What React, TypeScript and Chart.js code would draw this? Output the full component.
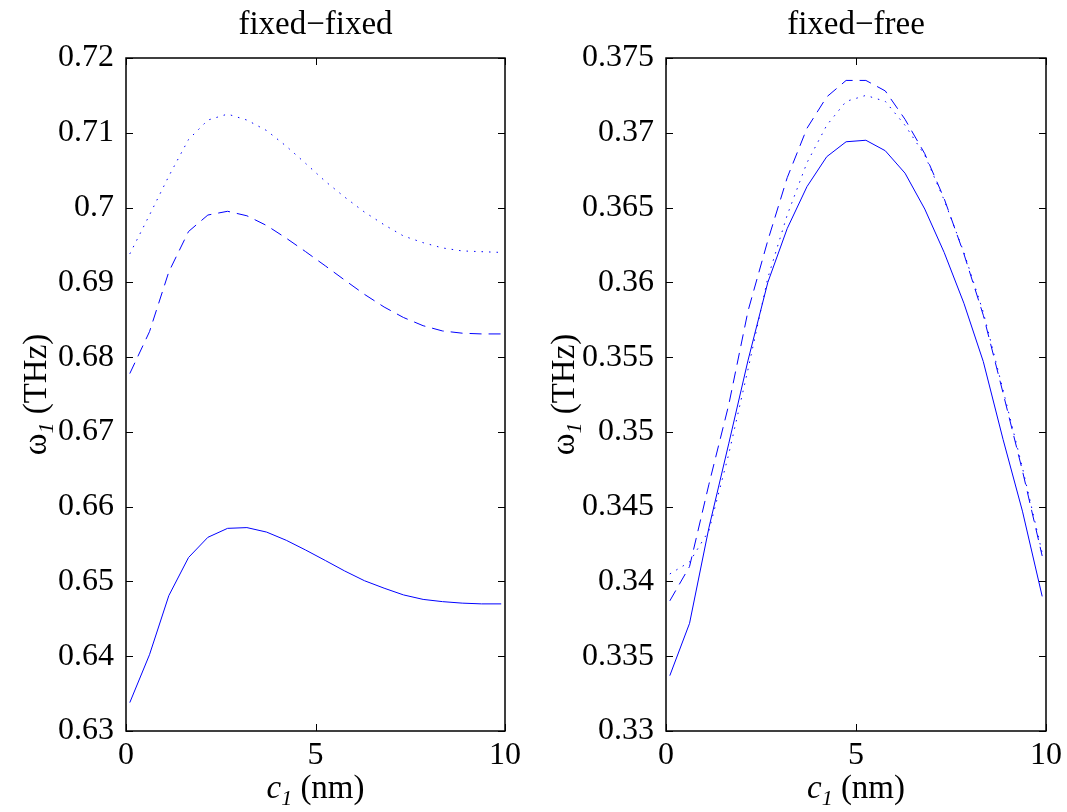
import React, { useEffect, useRef } from 'react';
import { Chart, registerables } from 'chart.js';

Chart.register(...registerables);

// ---- data ----
const C1 = [0.1, 0.62, 1.13, 1.65, 2.16, 2.68, 3.19, 3.71, 4.23, 4.74, 5.26, 5.77, 6.29, 6.81, 7.32, 7.84, 8.35, 8.87, 9.38, 9.9];

const fixedFixedSolid = [0.6338, 0.6402, 0.6481, 0.6532, 0.6559, 0.6571, 0.6572, 0.6566, 0.6555, 0.6542, 0.6528, 0.6514, 0.6501, 0.6491, 0.6482, 0.6476, 0.6473, 0.6471, 0.6470, 0.6470];
const fixedFixedDashed = [0.6778, 0.6834, 0.6914, 0.6968, 0.6990, 0.6995, 0.6989, 0.6976, 0.6959, 0.6941, 0.6922, 0.6903, 0.6884, 0.6867, 0.6853, 0.6842, 0.6835, 0.6832, 0.6831, 0.6831];
const fixedFixedDotted = [0.6938, 0.6990, 0.7042, 0.7091, 0.7117, 0.7125, 0.7117, 0.7103, 0.7082, 0.7059, 0.7035, 0.7014, 0.6994, 0.6977, 0.6962, 0.6953, 0.6946, 0.6942, 0.6941, 0.6940];

const fixedFreeSolid = [0.3337, 0.3372, 0.3436, 0.3492, 0.3548, 0.3600, 0.3636, 0.3664, 0.3684, 0.3694, 0.3695, 0.3688, 0.3673, 0.3649, 0.3620, 0.3586, 0.3547, 0.3495, 0.3447, 0.3390];
const fixedFreeDashed = [0.3387, 0.3410, 0.3465, 0.3518, 0.3581, 0.3628, 0.3670, 0.3703, 0.3724, 0.3735, 0.3735, 0.3728, 0.3709, 0.3686, 0.3656, 0.3619, 0.3578, 0.3526, 0.3474, 0.3417];
const fixedFreeDotted = [0.3405, 0.3413, 0.3434, 0.3485, 0.3542, 0.3603, 0.3645, 0.3680, 0.3705, 0.3721, 0.3725, 0.3721, 0.3705, 0.3685, 0.3655, 0.3620, 0.3580, 0.3528, 0.3476, 0.3419];

const xTicks = [0, 5, 10];
const yTicksFixedFixed = [0.63, 0.64, 0.65, 0.66, 0.67, 0.68, 0.69, 0.7, 0.71, 0.72];
const yTicksFixedFree = [0.33, 0.335, 0.34, 0.345, 0.35, 0.355, 0.36, 0.365, 0.37, 0.375];

const titles = ['fixed\u2212fixed', 'fixed\u2212free'];

// ---- styling ----
const FONT = '"Liberation Serif", "Times New Roman", serif';
const FS = 32;
const LABEL_FS = 33;
const SUB_FS = 22;
const BLUE = '#0000ff';
const CANVAS_H = 812;
const PLOT_TOP = 58;
const PLOT_BOTTOM = 731;

type Piece = { t: string; italic?: boolean; sub?: boolean; size?: number };

function drawPieces(ctx: CanvasRenderingContext2D, pieces: Piece[], cx: number, baseline: number) {
  const fontOf = (p: Piece) => `${p.italic ? 'italic ' : ''}${p.sub ? SUB_FS : p.size || FS}px ${FONT}`;
  let total = 0;
  const widths = pieces.map((p) => {
    ctx.font = fontOf(p);
    const w = ctx.measureText(p.t).width;
    total += w;
    return w;
  });
  let x = cx - total / 2;
  ctx.textAlign = 'left';
  ctx.textBaseline = 'alphabetic';
  pieces.forEach((p, i) => {
    ctx.font = fontOf(p);
    ctx.fillText(p.t, x, baseline + (p.sub ? 7 : 0));
    x += widths[i];
  });
}

const framePlugin = {
  id: 'matlabFrame',
  afterDraw(chart: any, _args: any, opts: any) {
    const { ctx, chartArea: a, scales } = chart;
    ctx.save();
    ctx.strokeStyle = '#000';
    ctx.lineWidth = 1.5;
    ctx.strokeRect(a.left, a.top, a.right - a.left, a.bottom - a.top);
    ctx.lineWidth = 1;
    const tl = 7;
    ctx.beginPath();
    scales.y.ticks.forEach((t: any) => {
      const y = Math.round(scales.y.getPixelForValue(t.value)) + 0.5;
      ctx.moveTo(a.left, y);
      ctx.lineTo(a.left + tl, y);
      ctx.moveTo(a.right, y);
      ctx.lineTo(a.right - tl, y);
    });
    scales.x.ticks.forEach((t: any) => {
      const x = Math.round(scales.x.getPixelForValue(t.value)) + 0.5;
      ctx.moveTo(x, a.bottom);
      ctx.lineTo(x, a.bottom - tl);
      ctx.moveTo(x, a.top);
      ctx.lineTo(x, a.top + tl);
    });
    ctx.stroke();

    ctx.fillStyle = '#000';
    const cx = (a.left + a.right) / 2;
    // title
    drawPieces(ctx, [{ t: opts.title, size: LABEL_FS }], cx, 34);
    // x label
    drawPieces(
      ctx,
      [{ t: 'c', italic: true, size: LABEL_FS }, { t: '1', italic: true, sub: true }, { t: ' (nm)', size: LABEL_FS }],
      cx,
      798
    );
    // y label
    ctx.save();
    ctx.translate(opts.yLabelX, (a.top + a.bottom) / 2);
    ctx.rotate(-Math.PI / 2);
    drawPieces(
      ctx,
      [{ t: '\u03c9', size: LABEL_FS }, { t: '1', italic: true, sub: true }, { t: ' (THz)', size: LABEL_FS }],
      0,
      0
    );
    ctx.restore();
    ctx.restore();
  },
};

function makeConfig(
  title: string,
  solid: number[],
  dashed: number[],
  dotted: number[],
  yTicks: number[],
  padRight: number,
  yLabelX: number
): any {
  const pts = (arr: number[]) => C1.map((x, i) => ({ x, y: arr[i] }));
  const common = { borderColor: BLUE, borderWidth: 1, pointRadius: 0, tension: 0, fill: false, borderCapStyle: 'butt' };
  return {
    type: 'line',
    data: {
      datasets: [
        { ...common, data: pts(solid) },
        { ...common, data: pts(dashed), borderDash: [12, 7] },
        { ...common, data: pts(dotted), borderDash: [1.5, 6] },
      ],
    },
    options: {
      animation: false,
      responsive: false,
      devicePixelRatio: 1,
      events: [],
      layout: { padding: { left: 0, top: PLOT_TOP, right: padRight, bottom: 0 } },
      plugins: {
        legend: { display: false },
        tooltip: { enabled: false },
        title: { display: false },
        matlabFrame: { title, yLabelX },
      },
      scales: {
        x: {
          type: 'linear',
          min: xTicks[0],
          max: xTicks[xTicks.length - 1],
          afterFit(s: any) {
            s.height = CANVAS_H - PLOT_BOTTOM;
          },
          afterBuildTicks(s: any) {
            s.ticks = xTicks.map((v) => ({ value: v }));
          },
          grid: { display: false, drawTicks: false },
          border: { display: false },
          ticks: {
            font: { family: FONT, size: FS },
            color: '#000',
            padding: 5,
            maxRotation: 0,
            autoSkip: false,
            callback: (v: number) => String(v),
          },
        },
        y: {
          type: 'linear',
          min: yTicks[0],
          max: yTicks[yTicks.length - 1],
          afterFit(s: any) {
            s.width = 126;
          },
          afterBuildTicks(s: any) {
            s.ticks = yTicks.map((v) => ({ value: v }));
          },
          grid: { display: false, drawTicks: false },
          border: { display: false },
          ticks: {
            font: { family: FONT, size: FS },
            color: '#000',
            padding: 12,
            autoSkip: false,
            callback: (v: number) => String(+Number(v).toFixed(4)),
          },
        },
      },
    },
    plugins: [framePlugin],
  };
}

export default function App() {
  const leftRef = useRef<HTMLCanvasElement>(null);
  const rightRef = useRef<HTMLCanvasElement>(null);

  useEffect(() => {
    const left = new Chart(
      leftRef.current!,
      makeConfig(titles[0], fixedFixedSolid, fixedFixedDashed, fixedFixedDotted, yTicksFixedFixed, 540 - 505, 46)
    );
    const right = new Chart(
      rightRef.current!,
      makeConfig(titles[1], fixedFreeSolid, fixedFreeDashed, fixedFreeDotted, yTicksFixedFree, 527 - 508, 34)
    );
    return () => {
      left.destroy();
      right.destroy();
    };
  }, []);

  return (
    <div style={{ position: 'absolute', left: 0, top: 0, width: 1067, height: 812, background: '#fff', overflow: 'hidden' }}>
      <canvas ref={leftRef} width={540} height={812} style={{ position: 'absolute', left: 0, top: 0, width: 540, height: 812 }} />
      <canvas ref={rightRef} width={527} height={812} style={{ position: 'absolute', left: 540, top: 0, width: 527, height: 812 }} />
    </div>
  );
}
